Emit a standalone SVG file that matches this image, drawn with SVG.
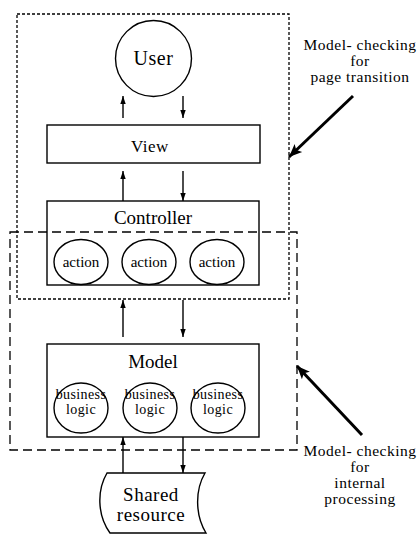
<svg xmlns="http://www.w3.org/2000/svg" width="419" height="534" viewBox="0 0 419 534">
<style>
.s{fill:none;stroke:#000;stroke-width:1.4}
text{font-family:'Liberation Serif','Times New Roman',serif;fill:#000;text-anchor:middle}
.c{stroke:#000;stroke-width:1.4;fill:none}
.b{stroke:#000;stroke-width:3;fill:none}
.l{font-size:15.5px;letter-spacing:0.5px}
.bl{font-size:14px;letter-spacing:0.4px}
.sr{font-size:19px;letter-spacing:0.5px}
</style>
<defs>
<marker id="a" markerUnits="userSpaceOnUse" markerWidth="8" markerHeight="8" viewBox="0 0 8 8" refX="8" refY="4" orient="auto">
<path d="M0,1.3 L8,4 L0,6.7 Z" fill="#000"/>
</marker>
<marker id="A" markerUnits="userSpaceOnUse" markerWidth="14" markerHeight="14" viewBox="0 0 14 14" refX="13" refY="7" orient="auto">
<path d="M0,1.5 L13,7 L0,12.5 L3,7 Z" fill="#000"/>
</marker>
</defs>
<rect id="page-transition-region" x="17" y="14" width="272" height="285" fill="none" stroke="#000" stroke-width="1.3" stroke-dasharray="3 2"/>
<rect id="internal-processing-region" x="10" y="232" width="287" height="218" fill="none" stroke="#000" stroke-width="1.3" stroke-dasharray="9 5"/>
<g id="user">
<circle class="s" cx="153.5" cy="58.5" r="38"/>
<text x="153.5" y="65" font-size="20" letter-spacing="0.5">User</text>
</g>
<g id="view">
<rect class="s" x="47" y="125" width="213" height="38"/>
<text x="150" y="152" font-size="17" letter-spacing="0.5">View</text>
</g>
<g id="controller">
<rect class="s" x="47" y="201" width="212" height="84"/>
<text x="153" y="224" font-size="19">Controller</text>
<ellipse class="s" cx="81" cy="262" rx="27" ry="22.5"/>
<text x="81" y="267" font-size="15">action</text>
<ellipse class="s" cx="149" cy="262" rx="27" ry="22.5"/>
<text x="149" y="267" font-size="15">action</text>
<ellipse class="s" cx="217" cy="262" rx="27" ry="22.5"/>
<text x="217" y="267" font-size="15">action</text>
</g>
<g id="model">
<rect class="s" x="47" y="344" width="212" height="93"/>
<text x="153" y="368" font-size="19">Model</text>
<ellipse class="s" cx="81" cy="408" rx="27" ry="25"/>
<text class="bl" x="81" y="399">business</text>
<text class="bl" x="81" y="414">logic</text>
<ellipse class="s" cx="150" cy="408" rx="27" ry="25"/>
<text class="bl" x="150" y="399">business</text>
<text class="bl" x="150" y="414">logic</text>
<ellipse class="s" cx="218" cy="408" rx="27" ry="25"/>
<text class="bl" x="218" y="399">business</text>
<text class="bl" x="218" y="414">logic</text>
</g>
<g id="shared-resource">
<path class="s" d="M107,473 L205,473 C195,490 195,515 206,533 L110,533 C97,515 97,490 107,473 Z"/>
<text class="sr" x="151" y="501">Shared</text>
<text class="sr" x="151" y="521">resource</text>
</g>
<g id="label-page-transition">
<text class="l" x="360" y="50">Model- checking</text>
<text class="l" x="360" y="66">for</text>
<text class="l" x="360" y="82">page transition</text>
</g>
<g id="label-internal-processing">
<text class="l" x="360" y="456">Model- checking</text>
<text class="l" x="360" y="472">for</text>
<text class="l" x="360" y="488">internal</text>
<text class="l" x="360" y="504">processing</text>
</g>
<g id="connectors">
<line class="c" x1="123" y1="118" x2="123" y2="96" marker-end="url(#a)"/>
<line class="c" x1="183" y1="96" x2="183" y2="118" marker-end="url(#a)"/>
<line class="c" x1="123" y1="201" x2="123" y2="171" marker-end="url(#a)"/>
<line class="c" x1="183" y1="171" x2="183" y2="201" marker-end="url(#a)"/>
<line class="c" x1="123" y1="337" x2="123" y2="300" marker-end="url(#a)"/>
<line class="c" x1="183" y1="300" x2="183" y2="337" marker-end="url(#a)"/>
<line class="c" x1="123" y1="473" x2="123" y2="437" marker-end="url(#a)"/>
<line class="c" x1="183" y1="437" x2="183" y2="473" marker-end="url(#a)"/>
<line class="b" x1="353" y1="96" x2="289" y2="157" marker-end="url(#A)"/>
<line class="b" x1="362" y1="435" x2="297" y2="366" marker-end="url(#A)"/>
</g>
</svg>
